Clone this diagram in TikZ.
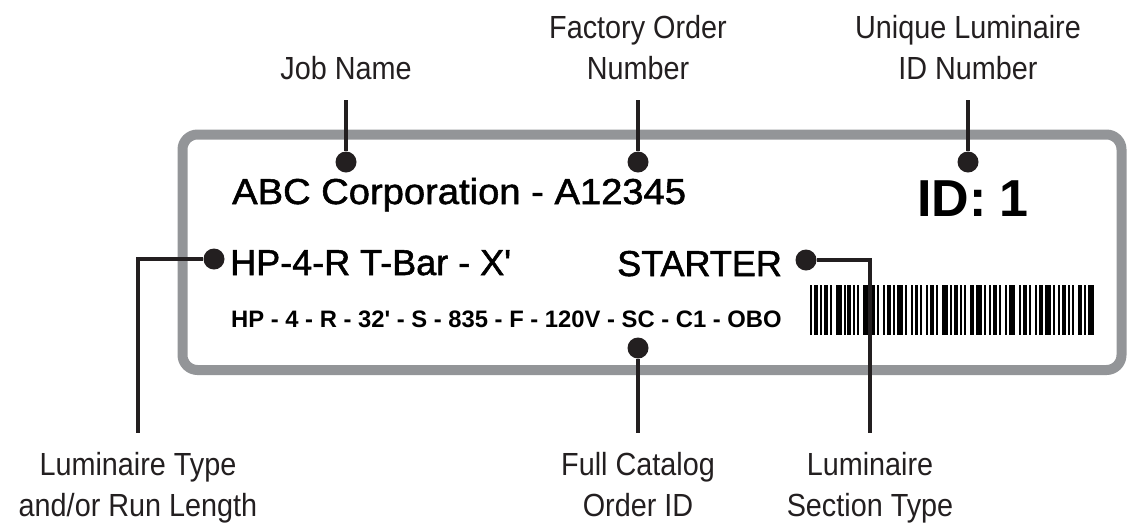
\documentclass[tikz,border=0pt]{standalone}
\usepackage{fontspec}
\setmainfont{Liberation Sans}
\newfontfamily\medfont[FakeBold=1.5]{Liberation Sans}
\newfontfamily\medwidefont[FakeBold=1.5,FakeStretch=1.06]{Liberation Sans}
\newfontfamily\condfont[FakeStretch=0.9]{Liberation Sans}
\usetikzlibrary{positioning}
\definecolor{leadgray}{HTML}{231F20}
\definecolor{boxgray}{HTML}{939598}

\begin{document}
\begin{tikzpicture}[x=1pt,y=-1pt,
  dot/.style={circle,fill=leadgray,inner sep=0pt,minimum size=21pt},
  lead/.style={leadgray,line width=4pt},
  callout/.style={font=\condfont\fontsize{32}{41}\selectfont,text=leadgray,
                  align=center,inner xsep=0pt},
  toplabel/.style={callout,anchor=south,inner ysep=20pt},
  botlabel/.style={callout,anchor=north,inner ysep=19pt},
  tag/.style={anchor=base west,inner sep=0pt,text=black}
]
  \useasboundingbox (0,0) rectangle (1127,523);

  % Label card
  \draw[boxgray,line width=10pt,rounded corners=15pt] (182.5,134.5) rectangle (1121.5,370);

  % Printed fields
  \node[tag,font=\medwidefont\fontsize{36}{43}\selectfont] (corp) at (232,204) {ABC Corporation - A12345};
  \node[tag,font=\bfseries\fontsize{52}{60}\selectfont] (idno) at (917,216) {ID:\kern0.24em 1};
  \node[tag,font=\medfont\fontsize{36}{43}\selectfont] (runtype) at (230,275) {HP-4-R T-Bar - X\textquotesingle};
  \node[tag,font=\medfont\fontsize{36}{43}\selectfont] (starter) at (617,276) {STARTER};
  \node[tag,font=\bfseries\fontsize{23.8}{28}\selectfont] (catalog) at (231,327)
    {HP - 4 - R - 32\textquotesingle\ - S - 835 - F - 120V - SC - C1 - OBO};

  % Barcode (bar/space widths in modules)
  \foreach \b/\s [remember=\nx as \cx (initially 0), evaluate=\cx as \nx using \cx+\b+\s] in
    {1/1,2/1,1/1,2/1,1/2,3/1,1/1,2/1,1/1,1/2,3/1,2/1,1/2,1/1,2/1,1/1,3/1,1/2,1/1,2/1,
     1/2,1/1,2/1,1/2,3/1,1/1,2/1,1/1,1/2,2/1,3/1,1/2,1/1,2/1,1/2,1/1,3/2,1/1,2/1,1/2,
     1/1,2/1,3/1,1/2,1/1,2/1,1/1,1/2,2/1,1/1,3/1}{
    \fill[black] (810+\cx*1.972,285) rectangle ++(\b*1.972,50);
  }

  % Callout dots
  \node[dot] (jobdot) at (346,162) {};
  \node[dot] (orderdot) at (638,162) {};
  \node[dot] (iddot) at (968,162) {};
  \node[dot] (typedot) at (214,259) {};
  \node[dot] (startdot) at (806,260) {};
  \node[dot] (catdot) at (638,348) {};

  % Callout texts
  \node[toplabel] (jobname) at (346,100) {Job Name};
  \node[toplabel] (ordername) at (638,100) {Factory Order\\Number};
  \node[toplabel] (idname) at (968,100) {Unique Luminaire\\ID Number};
  \node[botlabel] (typename) at (138,433) {Luminaire Type\\and/or Run Length};
  \node[botlabel] (catname) at (638,433) {Full Catalog\\Order ID};
  \node[botlabel] (sectname) at (870,433) {Luminaire\\Section Type};

  % Leaders
  \draw[lead] (jobname) -- (jobdot);
  \draw[lead] (ordername) -- (orderdot);
  \draw[lead] (idname) -- (iddot);
  \draw[lead] (catdot) -- (catname);
  \draw[lead] (typedot) -| (typename);
  \draw[lead] (startdot) -| (sectname);
\end{tikzpicture}
\end{document}
